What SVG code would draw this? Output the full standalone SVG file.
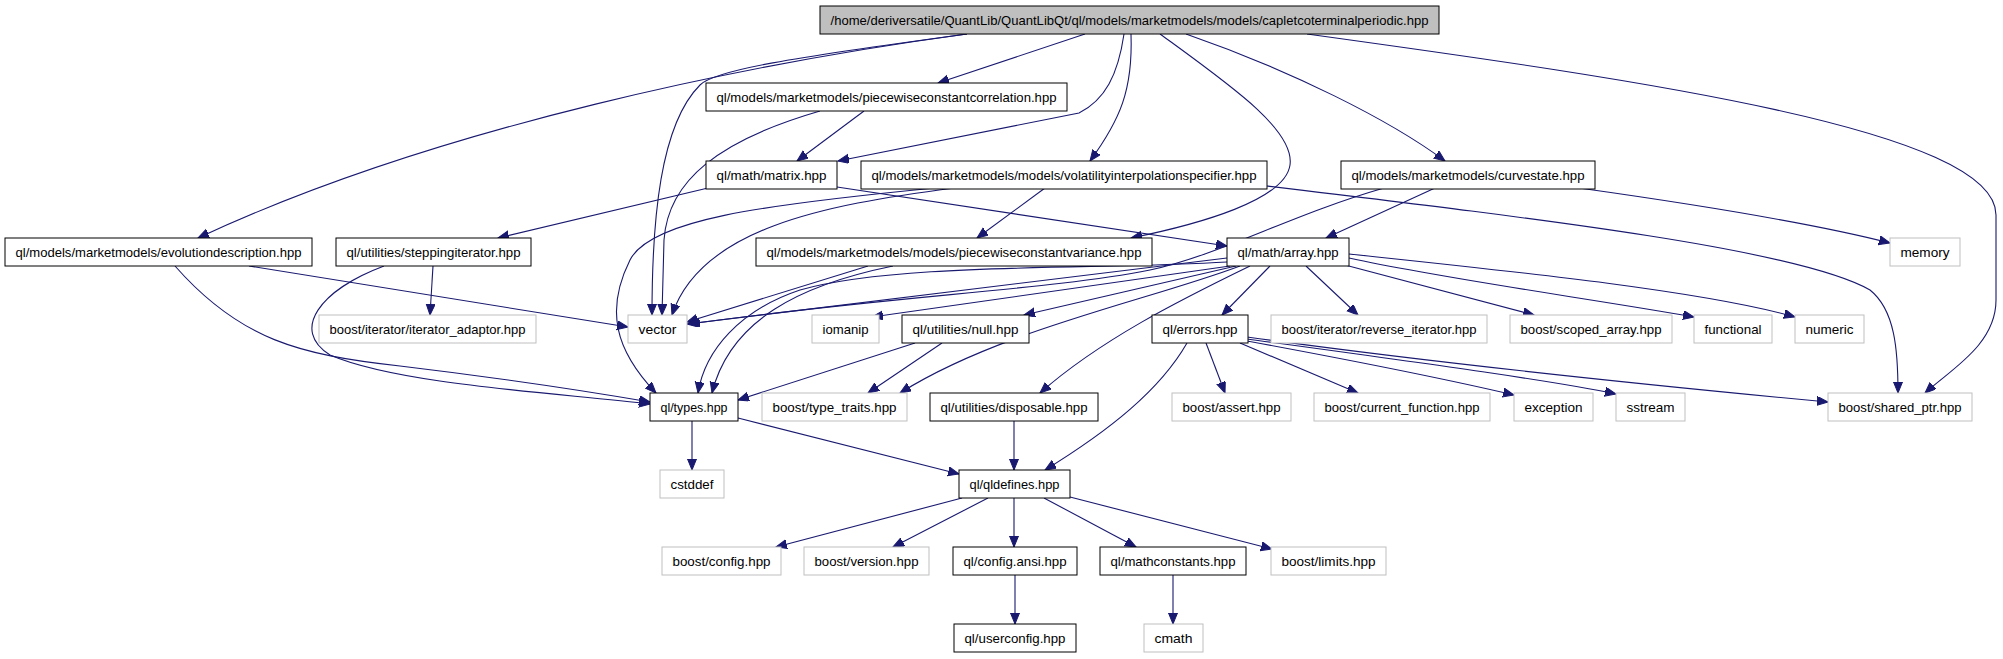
<svg xmlns="http://www.w3.org/2000/svg" width="2003" height="659" viewBox="0 0 2003 659">
<style>
rect{fill:#fff;stroke:#000;stroke-width:1}
.g rect{stroke:#bfbfbf}
.r rect{fill:#bfbfbf}
text{font-family:"Liberation Sans",Arial,sans-serif;font-size:13.3px;fill:#000;text-anchor:middle}
#edges path{fill:none;stroke:#191970;stroke-width:1.1;marker-end:url(#a)}
</style>
<defs>
<marker id="a" markerUnits="userSpaceOnUse" markerWidth="12" markerHeight="10" refX="11" refY="4.5" orient="auto"><path d="M0,0 L11,4.5 L0,9 z" fill="#191970" stroke="#191970" stroke-width="1"/></marker>
</defs>
<rect x="0" y="0" width="2003" height="659" style="fill:#fff;stroke:none"/>
<g id="edges">
<path d="M967,34 C760,62 440,125 198,238"/>
<path d="M967,34 C790,58 715,70 700,85 C660,125 652,220 652,315"/>
<path d="M1085,34 L938,83"/>
<path d="M1124,34 C1118,75 1105,100 1079,113 L838,161"/>
<path d="M1131,34 C1133,90 1120,120 1090,161"/>
<path d="M1160,34 C1230,85 1295,130 1290,165 C1285,200 1200,224 1131,238"/>
<path d="M1186,34 C1290,70 1390,120 1445,161"/>
<path d="M1307,34 C1640,80 1996,130 1996,215 L1996,300 C1996,345 1950,370 1925,393"/>
<path d="M864,111 L797,161"/>
<path d="M820,111 C720,140 668,180 664,240 L662,315"/>
<path d="M708,188 L498,238"/>
<path d="M837,187 L1227,246"/>
<path d="M955,188 C820,205 700,230 672,315"/>
<path d="M935,188 C760,205 650,220 630,260 C605,310 615,350 656,393"/>
<path d="M1045,188 L977,238"/>
<path d="M1267,186 C1550,220 1800,250 1870,290 C1895,310 1898,350 1898,393"/>
<path d="M1435,188 L1326,238"/>
<path d="M1579,188 C1700,205 1820,225 1890,243"/>
<path d="M1384,188 C1290,215 1220,255 1150,270 C1050,290 900,295 689,324"/>
<path d="M175,266 C240,340 300,355 400,366 C500,378 580,390 650,402"/>
<path d="M249,266 L628,327"/>
<path d="M384,266 C320,290 290,330 330,355 C400,385 560,393 650,404"/>
<path d="M433,266 L430,315"/>
<path d="M868,266 L687,322"/>
<path d="M893,266 C800,285 730,320 712,393"/>
<path d="M1227,258 L687,324"/>
<path d="M1227,262 C1100,270 900,262 800,290 C740,310 705,350 698,393"/>
<path d="M1230,266 L872,317"/>
<path d="M1236,266 L1024,315"/>
<path d="M1240,266 C1150,300 1000,330 900,393"/>
<path d="M1250,266 C1180,300 1100,340 1040,393"/>
<path d="M1270,266 L1222,315"/>
<path d="M1306,266 L1358,315"/>
<path d="M1345,265 L1534,315"/>
<path d="M1349,258 C1450,280 1600,300 1694,317"/>
<path d="M1349,254 C1500,270 1700,290 1795,317"/>
<path d="M915,343 L738,400"/>
<path d="M942,343 L868,393"/>
<path d="M1187,343 C1160,390 1110,430 1045,470"/>
<path d="M1206,343 L1225,393"/>
<path d="M1240,343 L1358,393"/>
<path d="M1247,341 C1350,360 1450,380 1514,395"/>
<path d="M1247,339 C1400,360 1550,380 1616,394"/>
<path d="M1247,337 C1450,365 1700,390 1828,402"/>
<path d="M1014,421 L1014,470"/>
<path d="M692,421 L692,470"/>
<path d="M738,418 L959,474"/>
<path d="M962,498 L776,547"/>
<path d="M988,498 L893,547"/>
<path d="M1014,498 L1014,547"/>
<path d="M1044,498 L1136,547"/>
<path d="M1070,497 L1272,549"/>
<path d="M1015,575 L1015,624"/>
<path d="M1173,575 L1173,624"/>
</g>
<g id="n_root" class="r"><rect x="820" y="6" width="619" height="28"/><text x="1129.5" y="24.5" textLength="598" lengthAdjust="spacingAndGlyphs">/home/deriversatile/QuantLib/QuantLibQt/ql/models/marketmodels/models/capletcoterminalperiodic.hpp</text></g>
<g id="n_pcorr"><rect x="706" y="83" width="361" height="28"/><text x="886.5" y="101.5" textLength="340" lengthAdjust="spacingAndGlyphs">ql/models/marketmodels/piecewiseconstantcorrelation.hpp</text></g>
<g id="n_matrix"><rect x="706" y="161" width="131" height="28"/><text x="771.5" y="179.5" textLength="110" lengthAdjust="spacingAndGlyphs">ql/math/matrix.hpp</text></g>
<g id="n_volat"><rect x="861" y="161" width="406" height="28"/><text x="1064" y="179.5" textLength="385" lengthAdjust="spacingAndGlyphs">ql/models/marketmodels/models/volatilityinterpolationspecifier.hpp</text></g>
<g id="n_curve"><rect x="1341" y="161" width="254" height="28"/><text x="1468" y="179.5" textLength="233" lengthAdjust="spacingAndGlyphs">ql/models/marketmodels/curvestate.hpp</text></g>
<g id="n_evol"><rect x="5" y="238" width="307" height="28"/><text x="158.5" y="256.5" textLength="286" lengthAdjust="spacingAndGlyphs">ql/models/marketmodels/evolutiondescription.hpp</text></g>
<g id="n_step"><rect x="336" y="238" width="195" height="28"/><text x="433.5" y="256.5" textLength="174" lengthAdjust="spacingAndGlyphs">ql/utilities/steppingiterator.hpp</text></g>
<g id="n_pcvar"><rect x="756" y="238" width="396" height="28"/><text x="954" y="256.5" textLength="375" lengthAdjust="spacingAndGlyphs">ql/models/marketmodels/models/piecewiseconstantvariance.hpp</text></g>
<g id="n_array"><rect x="1227" y="238" width="122" height="28"/><text x="1288" y="256.5" textLength="101" lengthAdjust="spacingAndGlyphs">ql/math/array.hpp</text></g>
<g id="n_memory" class="g"><rect x="1890" y="238" width="70" height="28"/><text x="1925" y="256.5" textLength="49" lengthAdjust="spacingAndGlyphs">memory</text></g>
<g id="n_iter" class="g"><rect x="319" y="315" width="217" height="28"/><text x="427.5" y="333.5" textLength="196" lengthAdjust="spacingAndGlyphs">boost/iterator/iterator_adaptor.hpp</text></g>
<g id="n_vector" class="g"><rect x="628" y="315" width="59" height="28"/><text x="657.5" y="333.5" textLength="38" lengthAdjust="spacingAndGlyphs">vector</text></g>
<g id="n_iomanip" class="g"><rect x="812" y="315" width="67" height="28"/><text x="845.5" y="333.5" textLength="46" lengthAdjust="spacingAndGlyphs">iomanip</text></g>
<g id="n_null"><rect x="902" y="315" width="127" height="28"/><text x="965.5" y="333.5" textLength="106" lengthAdjust="spacingAndGlyphs">ql/utilities/null.hpp</text></g>
<g id="n_errors"><rect x="1152" y="315" width="96" height="28"/><text x="1200" y="333.5" textLength="75" lengthAdjust="spacingAndGlyphs">ql/errors.hpp</text></g>
<g id="n_rev" class="g"><rect x="1271" y="315" width="216" height="28"/><text x="1379" y="333.5" textLength="195" lengthAdjust="spacingAndGlyphs">boost/iterator/reverse_iterator.hpp</text></g>
<g id="n_scoped" class="g"><rect x="1510" y="315" width="162" height="28"/><text x="1591" y="333.5" textLength="141" lengthAdjust="spacingAndGlyphs">boost/scoped_array.hpp</text></g>
<g id="n_functional" class="g"><rect x="1694" y="315" width="78" height="28"/><text x="1733" y="333.5" textLength="57" lengthAdjust="spacingAndGlyphs">functional</text></g>
<g id="n_numeric" class="g"><rect x="1795" y="315" width="69" height="28"/><text x="1829.5" y="333.5" textLength="48" lengthAdjust="spacingAndGlyphs">numeric</text></g>
<g id="n_types"><rect x="650" y="393" width="88" height="28"/><text x="694" y="411.5" textLength="67" lengthAdjust="spacingAndGlyphs">ql/types.hpp</text></g>
<g id="n_traits" class="g"><rect x="762" y="393" width="145" height="28"/><text x="834.5" y="411.5" textLength="124" lengthAdjust="spacingAndGlyphs">boost/type_traits.hpp</text></g>
<g id="n_disposable"><rect x="930" y="393" width="168" height="28"/><text x="1014" y="411.5" textLength="147" lengthAdjust="spacingAndGlyphs">ql/utilities/disposable.hpp</text></g>
<g id="n_assert" class="g"><rect x="1172" y="393" width="119" height="28"/><text x="1231.5" y="411.5" textLength="98" lengthAdjust="spacingAndGlyphs">boost/assert.hpp</text></g>
<g id="n_current" class="g"><rect x="1314" y="393" width="176" height="28"/><text x="1402" y="411.5" textLength="155" lengthAdjust="spacingAndGlyphs">boost/current_function.hpp</text></g>
<g id="n_exception" class="g"><rect x="1514" y="393" width="79" height="28"/><text x="1553.5" y="411.5" textLength="58" lengthAdjust="spacingAndGlyphs">exception</text></g>
<g id="n_sstream" class="g"><rect x="1616" y="393" width="69" height="28"/><text x="1650.5" y="411.5" textLength="48" lengthAdjust="spacingAndGlyphs">sstream</text></g>
<g id="n_shared" class="g"><rect x="1828" y="393" width="144" height="28"/><text x="1900" y="411.5" textLength="123" lengthAdjust="spacingAndGlyphs">boost/shared_ptr.hpp</text></g>
<g id="n_cstddef" class="g"><rect x="660" y="470" width="64" height="28"/><text x="692" y="488.5" textLength="43" lengthAdjust="spacingAndGlyphs">cstddef</text></g>
<g id="n_qldefines"><rect x="959" y="470" width="111" height="28"/><text x="1014.5" y="488.5" textLength="90" lengthAdjust="spacingAndGlyphs">ql/qldefines.hpp</text></g>
<g id="n_config" class="g"><rect x="662" y="547" width="119" height="28"/><text x="721.5" y="565.5" textLength="98" lengthAdjust="spacingAndGlyphs">boost/config.hpp</text></g>
<g id="n_version" class="g"><rect x="804" y="547" width="125" height="28"/><text x="866.5" y="565.5" textLength="104" lengthAdjust="spacingAndGlyphs">boost/version.hpp</text></g>
<g id="n_configansi"><rect x="953" y="547" width="124" height="28"/><text x="1015" y="565.5" textLength="103" lengthAdjust="spacingAndGlyphs">ql/config.ansi.hpp</text></g>
<g id="n_mathconst"><rect x="1100" y="547" width="146" height="28"/><text x="1173" y="565.5" textLength="125" lengthAdjust="spacingAndGlyphs">ql/mathconstants.hpp</text></g>
<g id="n_limits" class="g"><rect x="1271" y="547" width="115" height="28"/><text x="1328.5" y="565.5" textLength="94" lengthAdjust="spacingAndGlyphs">boost/limits.hpp</text></g>
<g id="n_userconfig"><rect x="954" y="624" width="122" height="28"/><text x="1015" y="642.5" textLength="101" lengthAdjust="spacingAndGlyphs">ql/userconfig.hpp</text></g>
<g id="n_cmath" class="g"><rect x="1144" y="624" width="59" height="28"/><text x="1173.5" y="642.5" textLength="38" lengthAdjust="spacingAndGlyphs">cmath</text></g>
</svg>
